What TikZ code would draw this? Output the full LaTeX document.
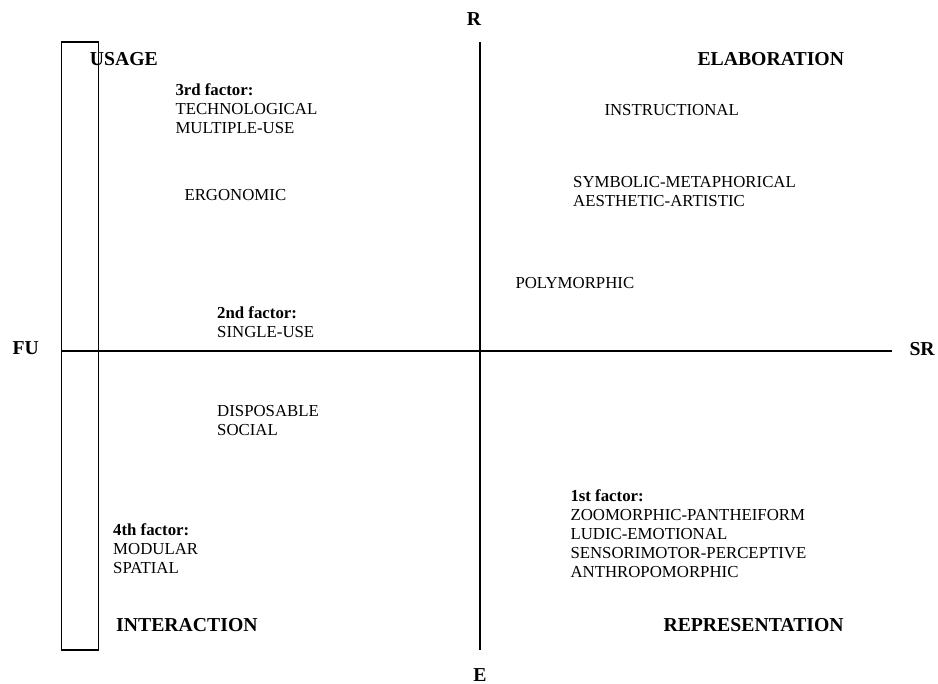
\documentclass[tikz,border=0pt]{standalone}
\usepackage{fontspec}
\setmainfont{Liberation Serif}

\tikzset{every picture/.style={line width=0.75pt}}

\begin{document}
\begin{tikzpicture}[x=0.75pt,y=0.75pt,yscale=-1,xscale=1,
  item/.style={anchor=base west,inner sep=0pt,align=left,font=\fontsize{12.6}{14.25}\selectfont},
  heading/.style={anchor=base west,inner sep=0pt,font=\fontsize{14.8}{17}\selectfont\bfseries},
  axis/.style={line width=1.1}]
\useasboundingbox (0,0) rectangle (938,684);
%multi-line text nodes are placed by the baseline of their last line

%Rectangle
\draw [line width=1]  (61.6,42) rectangle (98.7,650) ;

%Axis ends
\coordinate (rtop) at (480,42);
\coordinate (ebot) at (480,650);
\coordinate (fuend) at (62,351);
\coordinate (srend) at (892,351);

%Straight Lines
\draw [axis]    (rtop) -- (ebot) ;

%Straight Lines
\draw [axis]    (fuend) -- (srend) ;

% Text Node
\node (R) [heading,anchor=base] at (474,26) {R};
% Text Node
\node (E) [heading,anchor=base] at (480,681) {E};
% Text Node
\node (FU) [heading] at (12,354) {FU};
% Text Node
\node (SR) [heading] at (909,355.7) {SR};
% Text Node
\node (usage) [heading] at (89.3,65.7) {USAGE};
% Text Node
\node (elab) [heading] at (697,66) {ELABORATION};
% Text Node
\node (inter) [heading] at (115.7,631) {INTERACTION};
% Text Node
\node (repr) [heading] at (663,631) {REPRESENTATION};

% Text Node
\node (third) [item] at (175,134) {\textbf{3rd factor:}\\TECHNOLOGICAL\\MULTIPLE-USE};
% Text Node
\node (ergo) [item] at (184,201) {ERGONOMIC};
% Text Node
\node (second) [item] at (216.7,337.7) {\textbf{2nd factor:}\\SINGLE-USE};
% Text Node
\node (disp) [item] at (216.7,435.7) {DISPOSABLE\\SOCIAL};
% Text Node
\node (fourth) [item] at (112.7,573) {\textbf{4th factor:}\\MODULAR\\SPATIAL};
% Text Node
\node (instr) [item] at (604,116) {INSTRUCTIONAL};
% Text Node
\node (symb) [item] at (572.7,206.7) {SYMBOLIC-METAPHORICAL\\AESTHETIC-ARTISTIC};
% Text Node
\node (poly) [item] at (515,288.3) {POLYMORPHIC};
% Text Node
\node (first) [item] at (570,577.3) {\textbf{1st factor:}\\ZOOMORPHIC-PANTHEIFORM\\LUDIC-EMOTIONAL\\SENSORIMOTOR-PERCEPTIVE\\ANTHROPOMORPHIC};

\end{tikzpicture}
\end{document}
